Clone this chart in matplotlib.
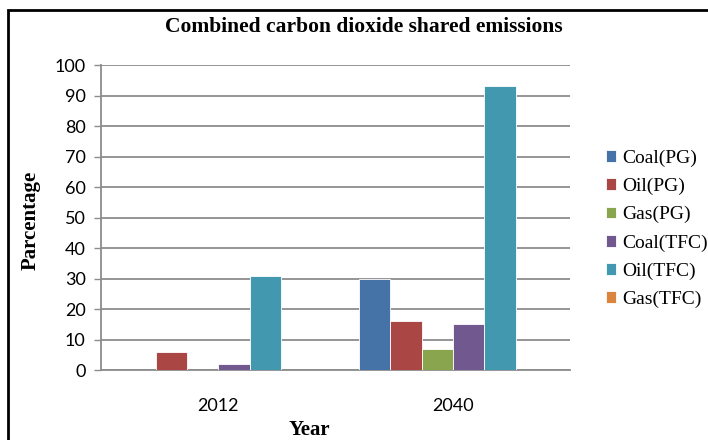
import matplotlib
matplotlib.use('Agg')
import matplotlib.pyplot as plt
import numpy as np
from matplotlib.patches import Rectangle

# shares per year and source, %
years = ['2012', '2040']
series = ['Coal(PG)', 'Oil(PG)', 'Gas(PG)', 'Coal(TFC)', 'Oil(TFC)', 'Gas(TFC)']
coal_pg = [0, 30]
oil_pg = [6, 16]
gas_pg = [0, 7]
coal_tfc = [2, 15]
oil_tfc = [31, 93]
gas_tfc = [0, 0]

valores = [coal_pg, oil_pg, gas_pg, coal_tfc, oil_tfc, gas_tfc]
colores = ['#4572A7', '#AA4643', '#89A54E', '#71588F', '#4198AF', '#DB843D']

fig = plt.figure(figsize=(7.08, 4.4), dpi=100)
ax = fig.add_axes([0.1427, 0.159, 0.663, 0.693])

x = np.arange(len(years))
n = len(series)
ancho = 0.8 / n
for i, (nombre, v) in enumerate(zip(series, valores)):
    pos = x - 0.4 + ancho * (i + 0.5)
    ax.bar(pos, v, width=ancho, color=colores[i], edgecolor='white',
           linewidth=0.6, label=nombre, zorder=3)

ax.set_xlim(-0.5, 1.5)
ax.set_ylim(0, 100)
ax.set_yticks(range(0, 101, 10))
ax.set_xticks(x)
ax.set_xticklabels(years)
ax.yaxis.grid(True, color='#8c8c8c', linewidth=1.3, zorder=0)
ax.tick_params(axis='y', length=5, width=1, color='#8c8c8c', labelsize=13, pad=6)
ax.tick_params(axis='x', length=0, labelsize=13, pad=20)
for lab in ax.get_xticklabels() + ax.get_yticklabels():
    lab.set_family('Lato')
for s in ['top', 'right']:
    ax.spines[s].set_visible(False)
for s in ['left', 'bottom']:
    ax.spines[s].set_color('#8c8c8c')
    ax.spines[s].set_linewidth(1.3)

serif = 'Liberation Serif'
fig.text(364 / 708, 1 - 27 / 440, 'Combined carbon dioxide shared emissions',
         ha='center', va='center', family=serif, weight='bold', fontsize=15.5)
fig.text(31 / 708, 1 - 220 / 440, 'Parcentage', rotation=90, ha='center',
         va='center', family=serif, weight='bold', fontsize=15)
fig.text(309 / 708, 1 - 430 / 440, 'Year', ha='center', va='center',
         family=serif, weight='bold', fontsize=15)

fig.legend(loc='upper left', bbox_to_anchor=(598 / 708, 1 - 142 / 440),
           frameon=False, prop={'family': serif, 'size': 14},
           handlelength=0.55, handleheight=0.55, handletextpad=0.3,
           labelspacing=0.56, borderaxespad=0)

# marco exterior
fig.patches.append(Rectangle((8 / 708, -0.1), 1.2, 1 - 10 / 440 + 0.1,
                             transform=fig.transFigure, fill=False,
                             edgecolor='black', linewidth=2))

fig.savefig('out.png', dpi=100)
